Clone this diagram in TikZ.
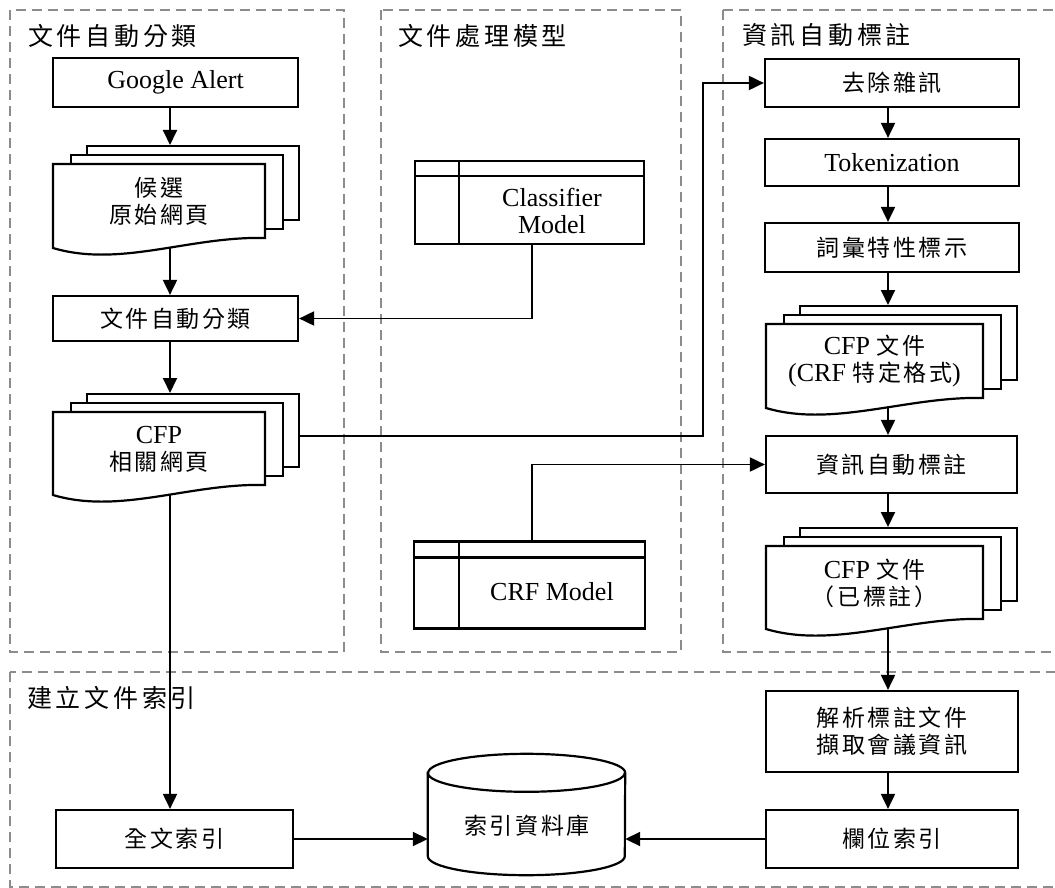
\documentclass[tikz,border=0pt]{standalone}
\usepackage{fontspec}
\setmainfont{Liberation Serif}
\newfontfamily\cjk[LetterSpace=11]{Noto Sans CJK TC}
\newfontfamily\cjkhead[LetterSpace=15]{Noto Sans CJK TC}
\usetikzlibrary{arrows.meta,calc}
\pgfdeclarelayer{frames}
\pgfdeclarelayer{links}
\pgfsetlayers{frames,links,main}

\newcommand\zh[1]{{\cjk\fontsize{23}{27}\selectfont #1}}
\newcommand\zhhead[1]{{\cjkhead\fontsize{25}{28}\selectfont #1}}

% stack of three pages; #1 name, #2,#3 top-left of the front page,
% #4 width, #5 height of the straight right edge, #6 text
\newcommand\docstack[6]{%
  \node[sheet, minimum width=#4pt, minimum height=#5pt, anchor=north west] (#1-back) at ({#2+33},{#3-19}) {};
  \node[sheet, minimum width=#4pt, minimum height=#5pt, anchor=north west] (#1-mid) at ({#2+17},{#3-10}) {};
  \draw[sheet] (#2,#3) -- ++(#4,0) -- ++(0,#5) .. controls +(-75,-2) and +(67,20) .. ++(-#4,10) -- cycle;
  \node[doctext] (#1) at ({#2+#4/2},{#3+37}) {#6};
}

\begin{document}
\begin{tikzpicture}[x=1pt,y=-1pt,
  frame/.style={draw=black!45, line width=1.6pt, dash pattern=on 10pt off 6pt},
  box/.style={draw, fill=white, line width=2.2pt, inner sep=0pt, align=center, font=\fontsize{26}{27}\selectfont},
  sheet/.style={draw, fill=white, line width=2.2pt, inner sep=0pt},
  doctext/.style={align=center, font=\fontsize{26}{27}\selectfont, inner sep=0pt},
  link/.style={line width=1.9pt, -{Triangle[length=15pt,width=14pt]}},
  heading/.style={anchor=west, inner sep=0pt}]

\useasboundingbox (0,0) rectangle (1055,888);

% group frames
\begin{pgfonlayer}{frames}
  \fill[white] (0,0) rectangle (1055,888);
  \draw[frame] (10,10) rectangle (344,652);
  \draw[frame] (381,10) rectangle (681,652);
  \draw[frame] (723,10) rectangle (1070,652);
  \draw[frame] (10,672) rectangle (1070,887);
\end{pgfonlayer}

\node[heading] (h-class) at (28,36) {\zhhead{文件自動分類}};
\node[heading] (h-model) at (398,36) {\zhhead{文件處理模型}};
\node[heading] (h-tag) at (742,35) {\zhhead{資訊自動標註}};
\node[heading] (h-index) at (27,698) {\zhhead{建立文件索引}};

% left column
\node[box, minimum width=245pt, minimum height=49pt] (google) at (175.5,82.5) {Google Alert};
\docstack{cand}{53}{164}{212}{74}{\zh{候選}\\\zh{原始網頁}}
\node[box, minimum width=245pt, minimum height=45pt] (classify) at (175.5,318.5) {\zh{文件自動分類}};
\docstack{cfp}{53}{412}{212}{73}{CFP\\\zh{相關網頁}}

% models
\node[box, minimum width=229pt, minimum height=83pt] (clf) at (529.5,202.5) {};
\draw[line width=2.2pt] ($(clf.north west)+(0,16)$) -- ($(clf.north east)+(0,16)$);
\draw[line width=2.2pt] ($(clf.north west)+(45,0)$) -- ($(clf.south west)+(45,0)$);
\node[doctext] (clf-text) at (552,211) {Classifier\\Model};

\node[box, minimum width=231pt, minimum height=87pt] (crf) at (529.5,585) {};
\draw[line width=2.2pt] ($(crf.north west)+(0,17)$) -- ($(crf.north east)+(0,17)$);
\draw[line width=2.2pt] ($(crf.north west)+(46,0)$) -- ($(crf.south west)+(46,0)$);
\node[doctext] (crf-text) at (552,592) {CRF Model};

% right column
\node[box, minimum width=254pt, minimum height=48pt] (denoise) at (892,83) {\zh{去除雜訊}};
\node[box, minimum width=254pt, minimum height=47pt] (token) at (892,162.5) {Tokenization};
\node[box, minimum width=254pt, minimum height=49pt] (feature) at (892,247.5) {\zh{詞彙特性標示}};
\docstack{crfdoc}{766}{324}{217}{74}{CFP \zh{文件}\\(CRF \zh{特定格式})}
\node[box, minimum width=251pt, minimum height=57pt] (tagging) at (891.5,464.5) {\zh{資訊自動標註}};
\docstack{tagged}{766}{546}{217}{73}{CFP \zh{文件}\\\zh{（已標註）}}
\node[box, minimum width=252pt, minimum height=81pt] (parse) at (892,731.5) {\zh{解析標註文件}\\\zh{擷取會議資訊}};
\node[box, minimum width=252pt, minimum height=58pt] (field) at (892,839) {\zh{欄位索引}};

% index row
\node[box, minimum width=237pt, minimum height=58pt] (full) at (174.5,839) {\zh{全文索引}};
\node[minimum width=197pt, minimum height=121pt, inner sep=0pt] (db) at (526.5,814.5) {};
\draw[line width=2.2pt, fill=white]
  ($(db.north west)+(0,19)$) -- ($(db.south west)+(0,-19)$)
  arc[start angle=180, end angle=360, x radius=98.5pt, y radius=19pt]
  -- ($(db.north east)+(0,19)$)
  arc[start angle=0, end angle=180, x radius=98.5pt, y radius=19pt] -- cycle;
\draw[line width=2.2pt] ($(db.north west)+(0,19)$)
  arc[start angle=180, end angle=360, x radius=98.5pt, y radius=19pt];
\node[doctext] (db-text) at (527,826) {\zh{索引資料庫}};

% connectors
\coordinate (lx) at (170,0);
\coordinate (rx) at (888,0);
\coordinate (bx) at (703,0);
\begin{pgfonlayer}{links}
  \draw[link] (google.south -| lx) -- (cand-back.north -| lx);
  \draw[link] (cand -| lx) -- (classify.north -| lx);
  \draw[link] (classify.south -| lx) -- (cfp-back.north -| lx);
  \draw[link] (cfp -| lx) -- (full.north -| lx);
  \draw[link] ($(clf.south)+(2.5,0)$) |- (classify.east);
  \draw[link] ($(crf.north)+(2.5,0)$) |- (tagging.west);
  \draw[link] ($(cfp-back.east)+(0,5)$) -| (bx |- denoise.west) -- (denoise.west);
  \draw[link] (denoise.south -| rx) -- (token.north -| rx);
  \draw[link] (token.south -| rx) -- (feature.north -| rx);
  \draw[link] (feature.south -| rx) -- (crfdoc-back.north -| rx);
  \draw[link] (crfdoc -| rx) -- (tagging.north -| rx);
  \draw[link] (tagging.south -| rx) -- (tagged-back.north -| rx);
  \draw[link] (tagged -| rx) -- (parse.north -| rx);
  \draw[link] (parse.south -| rx) -- (field.north -| rx);
  \draw[link] (field.west) -- (field.west -| db.east);
  \draw[link] (full.east) -- (full.east -| db.west);
\end{pgfonlayer}
\end{tikzpicture}
\end{document}
